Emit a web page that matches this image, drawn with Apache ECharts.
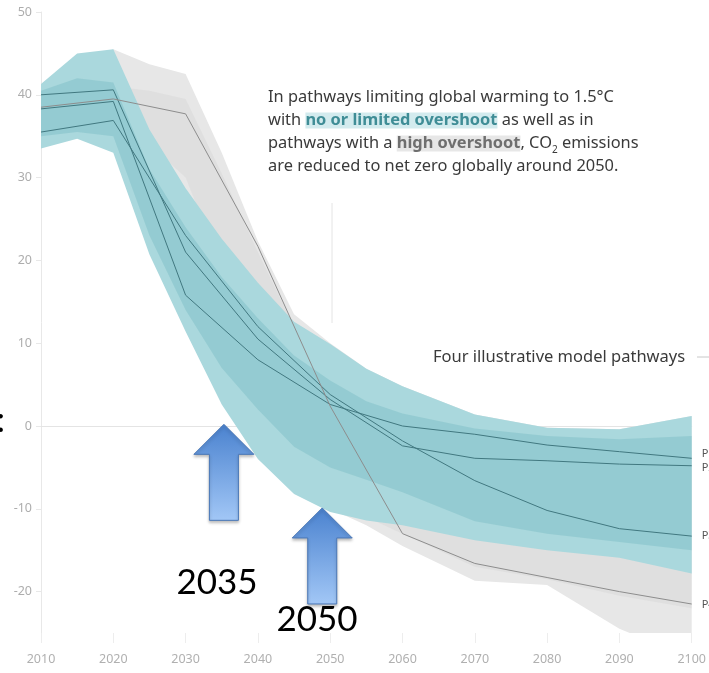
<!DOCTYPE html>
<html>
<head>
<meta charset="utf-8">
<script src="https://cdn.jsdelivr.net/npm/echarts@6/dist/echarts.min.js"></script>
<style>
  html, body { margin: 0; padding: 0; background: #fff; }
  #main { width: 709px; height: 673px; }
</style>
</head>
<body>
<div id="main"></div>
<script>
// decade points of the four illustrative pathways (GtCO2/yr)
var years = [2010, 2020, 2030, 2040, 2050, 2060, 2070, 2080, 2090, 2100];
var p1 = [38.3, 39.2, 15.8, 8.0, 2.6, 0.0, -1.0, -2.3, -3.1, -3.9];
var p2 = [40.0, 40.6, 21.0, 10.5, 3.2, -2.4, -3.9, -4.2, -4.6, -4.8];
var p3 = [35.5, 36.9, 23.0, 12.0, 3.8, -1.8, -6.6, -10.2, -12.4, -13.3];
var p4 = [38.5, 39.5, 37.7, 21.7, 2.4, -13.0, -16.6, -18.3, -20.0, -21.5];

// ranges of the scenario families
var bandYears = [2010, 2015, 2020, 2025, 2030, 2035, 2040, 2045, 2050, 2055, 2060, 2070, 2080, 2090, 2100];
var tealUpper = [41.3, 45.0, 45.5, 35.8, 28.7, 22.6, 17.3, 12.6, 9.9, 6.9, 4.8, 1.4, -0.2, -0.4, 1.2];
var tealLower = [33.5, 34.7, 33.0, 20.7, 11.4, 2.6, -4.0, -8.2, -10.4, -11.4, -12.0, -13.8, -15.0, -15.9, -17.8];
var tealInnerUpper = [40.5, 42.0, 41.5, 31.0, 24.0, 18.0, 13.0, 8.5, 5.5, 3.0, 1.5, -0.3, -1.2, -1.6, -1.2];
var tealInnerLower = [35.0, 35.5, 35.0, 23.0, 14.0, 7.0, 2.0, -2.5, -5.0, -6.5, -8.0, -11.5, -13.0, -14.0, -15.0];
var grayUpper = [41.3, 44.0, 45.5, 43.7, 42.5, 33.0, 22.3, 13.5, 10.0, 6.9, 4.8, 1.4, -0.2, -0.4, 1.2];
var grayLower = [35.0, 36.0, 36.0, 32.0, 28.0, 14.0, 2.0, -6.0, -10.0, -12.0, -14.5, -18.7, -19.2, -24.5, -28.0];
var grayInnerUpper = [39.0, 40.0, 41.0, 40.5, 39.5, 30.5, 21.0, 12.0, 8.0, 5.0, 3.0, 0.0, -2.0, -3.0, -3.0];
var grayInnerLower = [37.0, 37.5, 37.5, 34.0, 30.0, 19.0, 9.0, 0.0, -8.0, -11.0, -13.0, -17.0, -18.5, -20.5, -22.0];

var yTicks = [-20, -10, 0, 10, 20, 30, 40, 50];
var arrowTips = [[2035.3, 0.2], [2048.9, -9.9]];
var arrowTexts = ['2035', '2050'];

var chart = echarts.init(document.getElementById('main'));

function band(name, upper, lower, fill, z) {
  return {
    type: 'custom',
    name: name,
    z: z,
    clip: true,
    silent: true,
    data: [[2050, 0]],
    renderItem: function (params, api) {
      var pts = [];
      for (var i = 0; i < bandYears.length; i++) pts.push(api.coord([bandYears[i], upper[i]]));
      for (var j = bandYears.length - 1; j >= 0; j--) pts.push(api.coord([bandYears[j], lower[j]]));
      return { type: 'polygon', shape: { points: pts }, style: { fill: fill } };
    }
  };
}

function pathway(name, vals, color, labelOffset) {
  return {
    type: 'line',
    name: name,
    z: 6,
    silent: true,
    symbol: 'none',
    data: years.map(function (y, i) { return [y, vals[i]]; }),
    lineStyle: { color: color, width: 1 },
    endLabel: { show: true, formatter: name, color: '#555', fontSize: 11, distance: 10,
      offset: labelOffset, fontFamily: 'Noto Sans' }
  };
}

var option = {
  animation: false,
  backgroundColor: '#fff',
  grid: { left: 41, right: 11, top: 12, bottom: 40 },
  xAxis: [{
    type: 'value', min: 2010, max: 2100, interval: 10,
    splitLine: { show: false },
    axisLine: { show: false, onZero: false },
    axisTick: { show: true, length: 10, lineStyle: { color: '#ededed' } },
    axisLabel: { color: '#b0b0b0', fontSize: 12.5, margin: 20, fontFamily: 'Noto Sans',
      formatter: function (v) { return String(v); } }
  }, {
    // zero line
    type: 'value', min: 2010, max: 2100, position: 'top',
    splitLine: { show: false },
    axisLine: { show: true, onZero: true, lineStyle: { color: '#e4e4e4' } },
    axisTick: { show: false },
    axisLabel: { show: false }
  }],
  yAxis: {
    type: 'value', min: -25, max: 50,
    splitLine: { show: false },
    axisLine: { show: true, lineStyle: { color: '#e8e8e8' } },
    axisTick: { show: true, customValues: yTicks, length: 5, lineStyle: { color: '#e8e8e8' } },
    axisLabel: { customValues: yTicks, color: '#adadad', fontSize: 12.5, margin: 9, fontFamily: 'Noto Sans' }
  },
  series: [
    band('high overshoot', grayUpper, grayLower, '#e7e7e7', 1),
    band('high overshoot core', grayInnerUpper, grayInnerLower, 'rgba(205,205,205,0.3)', 2),
    band('no or limited overshoot', tealUpper, tealLower, '#aad8dd', 3),
    band('no or limited overshoot core', tealInnerUpper, tealInnerLower, 'rgba(110,180,188,0.35)', 4),
    pathway('P1', p1, '#417880', [0, -4]),
    pathway('P2', p2, '#417880', [0, 2]),
    pathway('P3', p3, '#417880', [0, 0]),
    pathway('P4', p4, '#8d8d8d', [0, 1])
  ]
};
chart.setOption(option);

function arrowShape(tip) {
  var x = tip[0], y = tip[1];
  return [[x, y], [x + 30, y + 30], [x + 14.5, y + 30], [x + 14.5, y + 96],
          [x - 14.5, y + 96], [x - 14.5, y + 30], [x - 30, y + 30]];
}

var graphics = [
  {
    type: 'text', left: 268, top: 86, z: 20,
    style: {
      text: 'In pathways limiting global warming to 1.5°C\nwith {t|no or limited overshoot} as well as in\npathways with a {g|high overshoot}, CO{s|2} emissions\nare reduced to net zero globally around 2050.',
      font: '16.4px "Noto Sans"', fill: '#3a3a3a', lineHeight: 23,
      rich: {
        t: { fontWeight: 'bold', fill: '#3f8d96', backgroundColor: '#d3ebee', fontSize: 16.4, fontFamily: 'Noto Sans', lineHeight: 23 },
        g: { fontWeight: 'bold', fill: '#6f6f6f', backgroundColor: '#e7e7e7', fontSize: 16.4, fontFamily: 'Noto Sans', lineHeight: 23 },
        s: { fontSize: 10, fontFamily: 'Noto Sans', fill: '#3a3a3a', verticalAlign: 'bottom', lineHeight: 18 }
      }
    }
  },
  { type: 'line', z: 20, shape: { x1: 332, y1: 203, x2: 332, y2: 323 }, style: { stroke: '#e4e4e4', lineWidth: 1 } },
  {
    type: 'text', x: 433, y: 357, z: 20,
    style: { text: 'Four illustrative model pathways', font: '16.5px "Noto Sans"', fill: '#3a3a3a', verticalAlign: 'middle' }
  },
  { type: 'line', z: 20, shape: { x1: 697, y1: 357, x2: 712, y2: 357 }, style: { stroke: '#c8c8c8', lineWidth: 1 } },
  {
    type: 'text', x: 5, y: 421, z: 20,
    style: { text: ':', font: '34px Lato', fill: '#000', align: 'right', verticalAlign: 'middle' }
  }
];

arrowTips.forEach(function (tip) {
  var px = chart.convertToPixel({ xAxisIndex: 0, yAxisIndex: 0 }, tip);
  graphics.push({
    type: 'polygon', z: 30,
    shape: { points: arrowShape(px) },
    style: {
      fill: new echarts.graphic.LinearGradient(0, 0, 0, 1, [
        { offset: 0, color: '#4a82cf' }, { offset: 1, color: '#a2c7f6' }
      ]),
      stroke: '#4a78b8', lineWidth: 1,
      shadowBlur: 3, shadowColor: 'rgba(0,0,0,0.25)', shadowOffsetY: 2
    }
  });
});

graphics.push({
  type: 'text', x: 217, y: 583, z: 30,
  style: { text: arrowTexts[0], font: '35px Lato', fill: '#000', align: 'center', verticalAlign: 'middle' }
});
graphics.push({
  type: 'text', x: 317, y: 620, z: 30,
  style: { text: arrowTexts[1], font: '35px Lato', fill: '#000', align: 'center', verticalAlign: 'middle' }
});

chart.setOption({ graphic: graphics });
</script>
</body>
</html>
